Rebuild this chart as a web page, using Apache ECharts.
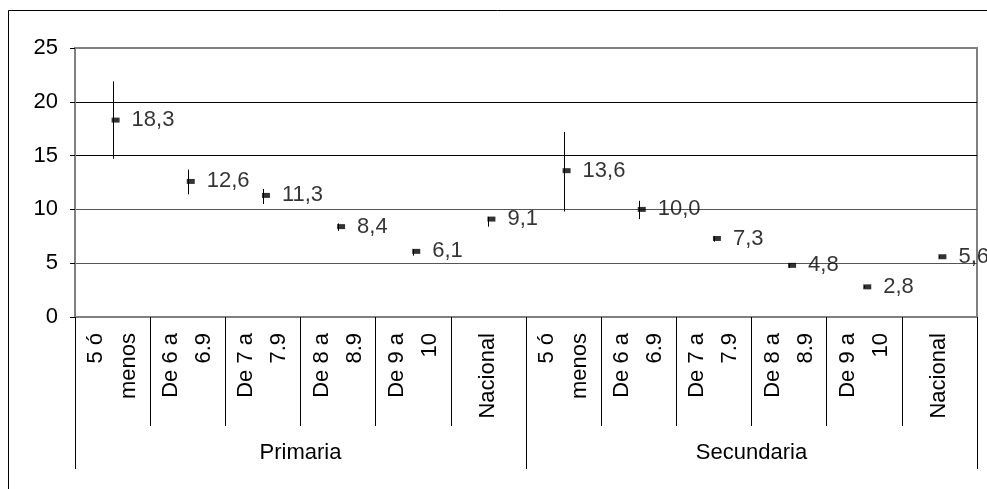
<!DOCTYPE html>
<html>
<head>
<meta charset="utf-8">
<title>Primaria y Secundaria</title>
<script src="https://cdn.jsdelivr.net/npm/echarts@6/dist/echarts.min.js"></script>
<style>
  html, body { margin: 0; padding: 0; background: #fff; }
  #chart { width: 987px; height: 489px; }
</style>
</head>
<body>
<div id="chart"></div>
<script>
// Categories along the bottom axis (two groups of six)
const categories = [
  '5 ó\nmenos', 'De 6 a\n6.9', 'De 7 a\n7.9', 'De 8 a\n8.9', 'De 9 a\n10', 'Nacional',
  '5 ó\nmenos', 'De 6 a\n6.9', 'De 7 a\n7.9', 'De 8 a\n8.9', 'De 9 a\n10', 'Nacional'
];
const groups = ['Primaria', 'Secundaria'];

// Point estimates and interval bounds
const values = [18.3, 12.6, 11.3, 8.4, 6.1, 9.1, 13.6, 10.0, 7.3, 4.8, 2.8, 5.6];
const lower  = [14.7, 11.4, 10.5, 8.0, 5.7, 8.4, 9.8, 9.1, 7.0, 4.55, 2.7, 5.5];
const upper  = [21.9, 13.7, 11.9, 8.7, 6.3, 9.3, 17.2, 10.8, 7.5, 5.0, 2.9, 5.7];

// Y axis ticks
const yMin = 0, yMax = 25, yStep = 5;

const FONT = '"Liberation Sans", Arial, sans-serif';

const chart = echarts.init(document.getElementById('chart'), null, { renderer: 'canvas' });

const intervals = values.map((v, i) => [i, lower[i], upper[i]]);

chart.setOption({
  animation: false,
  backgroundColor: '#fff',
  textStyle: { fontFamily: FONT },
  grid: {
    left: 75, right: 10, top: 48, bottom: 172,
    show: true, borderColor: '#808080', borderWidth: 2,
    containLabel: false, outerBoundsMode: 'none'
  },
  xAxis: [
    {
      type: 'category',
      data: categories,
      position: 'bottom',
      boundaryGap: true,
      axisLine: { show: true, lineStyle: { color: '#808080', width: 2 } },
      axisTick: { show: true, interval: 0, length: 109, lineStyle: { color: '#000', width: 1 } },
      axisLabel: {
        interval: 0, rotate: 90, margin: 16,
        fontSize: 22, lineHeight: 33, color: '#000', fontFamily: FONT
      },
      splitLine: { show: false }
    },
    {
      type: 'category',
      data: groups,
      position: 'bottom',
      boundaryGap: true,
      axisLine: { show: false },
      axisTick: { show: true, interval: 0, length: 152, lineStyle: { color: '#000', width: 1 } },
      axisLabel: { interval: 0, margin: 125, fontSize: 22, color: '#000', fontFamily: FONT },
      splitLine: { show: false }
    }
  ],
  yAxis: {
    type: 'value',
    min: yMin, max: yMax, interval: yStep,
    axisLine: { show: true, lineStyle: { color: '#808080', width: 2 } },
    axisTick: { show: true, length: 5, lineStyle: { color: '#000', width: 1 } },
    axisLabel: { margin: 17, fontSize: 22, color: '#000', fontFamily: FONT },
    splitLine: {
      show: true,
      lineStyle: { color: ['#808080', '#555', '#555', '#000', '#000', '#808080'], width: 1 }
    }
  },
  series: [
    {
      // vertical interval lines
      type: 'custom',
      xAxisIndex: 0,
      z: 3,
      data: intervals,
      renderItem: function (params, api) {
        const lo = api.coord([api.value(0), api.value(1)]);
        const hi = api.coord([api.value(0), api.value(2)]);
        const x = Math.round(lo[0]) + 0.5;
        return {
          type: 'line',
          shape: { x1: x, y1: lo[1], x2: x, y2: hi[1] },
          style: { stroke: '#000', lineWidth: 1 }
        };
      }
    },
    {
      // point markers with value labels
      type: 'scatter',
      xAxisIndex: 0,
      z: 4,
      data: values,
      symbol: 'rect',
      symbolSize: [8, 5],
      symbolOffset: [3, 0],
      itemStyle: { color: '#000' },
      label: {
        show: true,
        position: 'right',
        distance: 12,
        fontSize: 22,
        color: '#000',
        fontFamily: FONT,
        formatter: p => p.value.toFixed(1).replace('.', ',')
      },
      emphasis: { disabled: true }
    }
  ],
  graphic: [
    { type: 'line', shape: { x1: 8.5, y1: 10.5, x2: 987, y2: 10.5 }, style: { stroke: '#000', lineWidth: 1 }, silent: true },
    { type: 'line', shape: { x1: 8.5, y1: 10.5, x2: 8.5, y2: 489 }, style: { stroke: '#000', lineWidth: 1 }, silent: true }
  ]
});
</script>
</body>
</html>
